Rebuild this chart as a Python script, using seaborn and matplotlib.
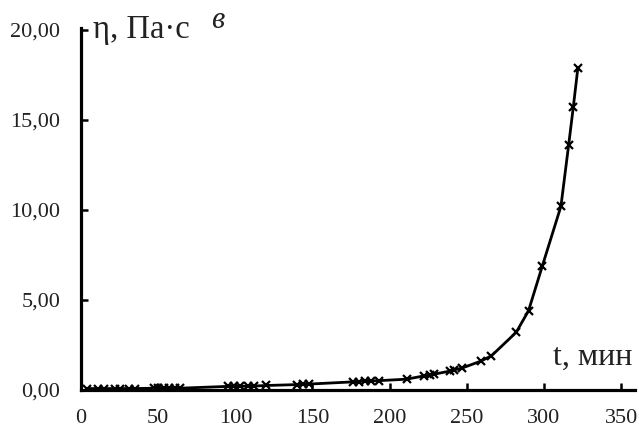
import matplotlib
matplotlib.use("Agg")
import matplotlib.pyplot as plt
import seaborn as sns
import pandas as pd
from matplotlib.ticker import FuncFormatter

# Viscosity growth during curing
time_min = [4, 11, 15, 22, 25, 31, 35, 47, 50, 54, 57, 61, 64,
            95, 99, 103, 108, 112, 120, 140, 144, 148,
            176, 180, 184, 188, 193, 211, 222, 226, 229,
            239, 242, 247, 259, 266, 282, 290, 299, 311, 316, 319, 322]
viscosity = [0.08, 0.08, 0.08, 0.08, 0.08, 0.08, 0.08, 0.10, 0.10, 0.10, 0.10, 0.10, 0.10,
             0.20, 0.20, 0.20, 0.22, 0.22, 0.25, 0.30, 0.32, 0.33,
             0.45, 0.47, 0.50, 0.50, 0.52, 0.60, 0.78, 0.82, 0.88,
             1.05, 1.12, 1.22, 1.60, 1.90, 3.20, 4.40, 6.90, 10.20, 13.60, 15.70, 17.90]
x_ticks = [0, 50, 100, 150, 200, 250, 300, 350]
y_ticks = [0, 5, 10, 15, 20]

sns.set_theme(style="white")
plt.rcParams["font.family"] = ["Liberation Serif", "DejaVu Serif"]

df = pd.DataFrame({"t": time_min, "eta": viscosity})

fig = plt.figure(figsize=(6.39, 4.36), dpi=100)
ax = fig.add_axes([81 / 639, 46 / 436, 554 / 639, 362 / 436])

sns.lineplot(data=df, x="t", y="eta", ax=ax, color="black", linewidth=2.0,
             marker="x", markersize=6, markeredgewidth=1.6, markeredgecolor="black",
             sort=False, errorbar=None)

ax.set_xlim(0, 359)
ax.set_ylim(0, 20.1)
ax.set_xticks(x_ticks)
ax.set_yticks(y_ticks)
ax.yaxis.set_major_formatter(FuncFormatter(lambda v, p: f"{v:.2f}".replace(".", ",")))
ax.set_xlabel("")
ax.set_ylabel("")

for side in ("top", "right"):
    ax.spines[side].set_visible(False)
for side in ("left", "bottom"):
    ax.spines[side].set_linewidth(2.3)
    ax.spines[side].set_color("black")

ax.tick_params(axis="both", direction="in", length=5, width=1.8, colors="black",
               labelsize=16, labelcolor="#222222")
ax.tick_params(axis="x", pad=14)
ax.tick_params(axis="y", pad=15)
ax.tick_params(left=True, bottom=True)

ax.text(0.022, 0.995, "η, Па·с", transform=ax.transAxes, fontsize=23.5,
        ha="left", va="center", color="#222222")
ax.text(0.235, 1.02, "в", transform=ax.transAxes, fontsize=22, style="italic",
        ha="left", va="center", color="#222222")
ax.text(0.995, 0.09, "t, мин", transform=ax.transAxes, fontsize=23,
        ha="right", va="center", color="#222222")

fig.savefig("out.png", dpi=100, facecolor="white")
